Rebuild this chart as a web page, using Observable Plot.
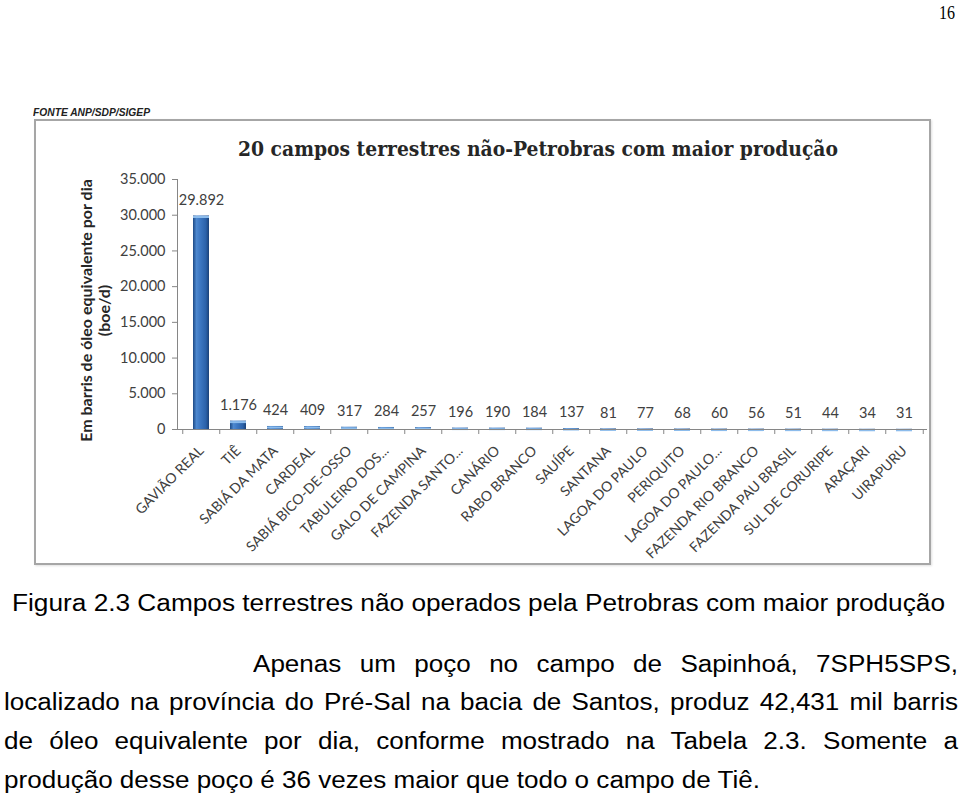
<!DOCTYPE html>
<html><head><meta charset="utf-8">
<script src="https://cdn.jsdelivr.net/npm/d3@7"></script>
<script src="https://cdn.jsdelivr.net/npm/@observablehq/plot@0.6"></script>
<style>
html,body{margin:0;padding:0;background:#fff}
body{width:960px;height:797px;position:relative;overflow:hidden}
.t{position:absolute;white-space:nowrap;transform-origin:0 0;line-height:1}
#box{position:absolute;left:34px;top:119px;width:897px;height:446px;border:2px solid #a6a6a6;box-sizing:border-box;box-shadow:1px 1px 2px rgba(0,0,0,0.12)}
#chart{position:absolute;left:0;top:44px}
</style></head><body>
<div id="box"><div id="chart"></div></div>
<script>
// ---- data ----
const categories = ["GAVIÃO REAL","TIÊ","SABIÁ DA MATA","CARDEAL","SABIÁ BICO-DE-OSSO","TABULEIRO DOS...","GALO DE CAMPINA","FAZENDA SANTO...","CANÁRIO","RABO BRANCO","SAUÍPE","SANTANA","LAGOA DO PAULO","PERIQUITO","LAGOA DO PAULO...","FAZENDA RIO BRANCO","FAZENDA PAU BRASIL","SUL DE CORURIPE","ARAÇARI","UIRAPURU"];
const values = [29892,1176,424,409,317,284,257,196,190,184,137,81,77,68,60,56,51,44,34,31];
const yTicks = [0,5000,10000,15000,20000,25000,30000,35000];
const chartTitle = "20 campos terrestres não-Petrobras com maior produção";
const yTitleLines = ["Em barris de óleo equivalente por dia","(boe/d)"];
const sourceText = "FONTE ANP/SDP/SIGEP";
const pageNumber = "16";
const captionText = "Figura 2.3 Campos terrestres não operados pela Petrobras com maior produção";
const paragraphLines = [
  "Apenas um poço no campo de Sapinhoá, 7SPH5SPS,",
  "localizado na província do Pré-Sal na bacia de Santos, produz 42,431 mil barris",
  "de óleo equivalente por dia, conforme mostrado na Tabela 2.3. Somente a",
  "produção desse poço é 36 vezes maior que todo o campo de Tiê."
];

// ---- page text helpers ----
function place(txt, o) {
  const el = document.createElement("div");
  el.className = "t";
  el.textContent = txt;
  Object.assign(el.style, {
    fontFamily: o.font, fontSize: o.size + "px", fontWeight: o.weight || "normal",
    fontStyle: o.style || "normal", color: o.color || "#000",
    left: o.left + "px", top: (o.baseline - 0.845 * o.size) + "px"
  });
  document.body.appendChild(el);
  let s = 1;
  if (o.width) { const w = el.getBoundingClientRect().width; s = o.width / w; el.style.transform = `scaleX(${s})`; }
  return s;
}
function justify(txt, left, right, baseline, size, scale) {
  const el = document.createElement("div");
  el.className = "t";
  el.textContent = txt;
  Object.assign(el.style, {
    fontFamily: "'Liberation Sans', Arial, sans-serif", fontSize: size + "px", color: "#000",
    whiteSpace: "normal", textAlign: "justify", textAlignLast: "justify",
    width: ((right - left) / scale) + "px", left: left + "px", top: (baseline - 0.845 * size) + "px",
    transform: `scaleX(${scale})`
  });
  document.body.appendChild(el);
}

const sans = "'Liberation Sans', Arial, sans-serif";
place(pageNumber, {font: "'Liberation Serif', serif", size: 18, left: 939, baseline: 19, width: 16});
place(sourceText, {font: "'Liberation Sans Narrow', 'Liberation Sans', sans-serif", size: 11, weight: "bold", style: "italic", color: "#222", left: 33, baseline: 116, width: 117});
place(chartTitle, {font: "'DejaVu Serif', serif", size: 19.5, weight: "bold", color: "#262626", left: 238, baseline: 156, width: 600});
place(captionText, {font: sans, size: 23, left: 12, baseline: 611, width: 933});
const sc = place(paragraphLines[3], {font: sans, size: 23, left: 4, baseline: 788, width: 756});
justify(paragraphLines[0], 253, 958, 672, 23, sc);
justify(paragraphLines[1], 4, 958, 710.5, 23, sc);
justify(paragraphLines[2], 4, 958, 749, 23, sc);

// ---- chart ----
const data = categories.map((c, i) => ({campo: c, valor: values[i]}));
const fmt = v => d3.format(",")(v).replace(/,/g, ".");
const txtColor = "#404040", axisColor = "#868686";
const defsMark = () => {
  const defs = d3.create("svg:defs");
  const g = defs.append("linearGradient").attr("id", "barGrad").attr("x1", 0).attr("x2", 1).attr("y1", 0).attr("y2", 0);
  [[0, "#1d4a86"], [0.22, "#4d88cf"], [0.42, "#3e79c4"], [0.8, "#2b62aa"], [1, "#1a4178"]]
    .forEach(([o, c]) => g.append("stop").attr("offset", o).attr("stop-color", c));
  return defs.node();
};

const chart = Plot.plot({
  width: 892, height: 398,
  marginLeft: 141, marginRight: 1, marginTop: 14, marginBottom: 134,
  style: {fontFamily: "Lato, sans-serif", background: "transparent", overflow: "visible"},
  x: {domain: categories, paddingInner: 0.57, paddingOuter: 0.285, axis: null},
  y: {domain: [0, 35000], axis: null},
  marks: [
    defsMark,
    Plot.barY(data, {x: "campo", y: "valor", fill: "url(#barGrad)"}),
    Plot.tickY(data, {x: "campo", y: "valor", stroke: "#8cbcec", strokeWidth: 2, dy: 1}),
    Plot.ruleY([0], {stroke: axisColor}),
    Plot.frame({anchor: "left", stroke: axisColor}),
    Plot.axisY({ticks: yTicks, tickFormat: fmt, tickSize: 5, tickPadding: 7, fontSize: 14.5, fill: txtColor, stroke: axisColor, label: null}),
    Plot.axisX({tickSize: 5, tickFormat: () => "", dx: -18.75, stroke: axisColor, label: null}),
    Plot.axisX([categories[categories.length - 1]], {tickSize: 5, tickFormat: () => "", dx: 18.75, stroke: axisColor, label: null}),
    Plot.axisX({tickSize: 0, tickRotate: -45, tickPadding: 14, dx: 0, dy: 5, fontSize: 14, fill: txtColor, label: null}),
    Plot.text(data, {x: "campo", y: "valor", text: d => fmt(d.valor), dy: -16, fontSize: 14.5, fill: txtColor}),
    Plot.text([yTitleLines.join("\n")], {frameAnchor: "left", textAnchor: "middle", rotate: -90, dx: -82, dy: 6, fontSize: 16, fontWeight: "bold", fill: "#262626", lineHeight: 1.125})
  ]
});
document.getElementById("chart").appendChild(chart);
</script>
</body></html>
